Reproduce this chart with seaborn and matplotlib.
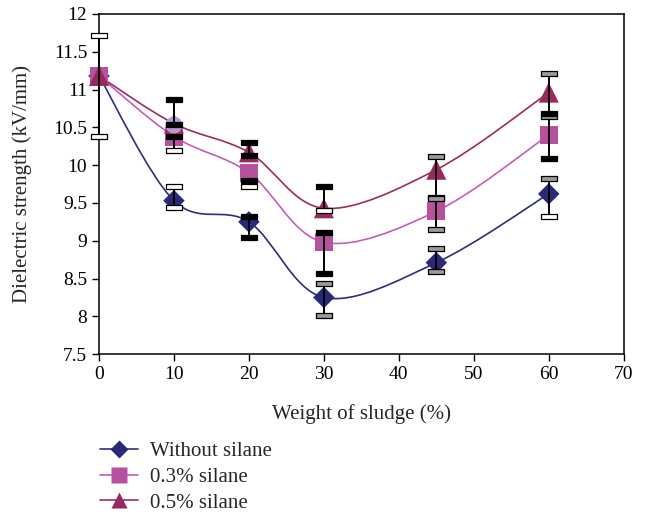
import numpy as np
import pandas as pd
import matplotlib
matplotlib.use("Agg")
import matplotlib.pyplot as plt
from matplotlib.path import Path
from matplotlib.patches import PathPatch
from matplotlib.lines import Line2D
from matplotlib.ticker import FuncFormatter, MultipleLocator
import seaborn as sns

# --- data ---
sludge = [0, 10, 20, 30, 45, 60]
series_names = ["Without silane", "0.3% silane", "0.5% silane"]

no_silane = [11.18, 9.53, 9.25, 8.25, 8.71, 9.62]
no_silane_hi = [11.72, 9.73, 9.33, 8.44, 8.91, 9.83]
no_silane_lo = [10.39, 9.45, 9.05, 8.02, 8.60, 9.33]

silane_03 = [11.18, 10.38, 9.90, 8.98, 9.39, 10.40]
silane_03_hi = [np.nan, 10.38, 9.80, 9.12, 9.58, 10.65]
silane_03_lo = [np.nan, 10.20, 9.72, 8.58, 9.15, 10.09]

silane_05 = [11.18, 10.55, 10.17, 9.43, 9.94, 10.96]
silane_05_hi = [np.nan, 10.87, 10.31, 9.72, 10.12, 11.22]
silane_05_lo = [np.nan, 10.55, 10.13, 9.41, 9.56, 10.69]

# stray light circle marker sitting on the 10 % column
stray_x = [10]
stray_y = [10.53]

# --- styles ---
line_colors = ["#2e2d82", "#c65cb8", "#9c2c60"]
fill_colors = ["#2a2977", "#b6519f", "#98295f"]
markers = ["D", "s", "^"]
marker_area = [120, 175, 210]
# cap fill per point: k = black, g = grey, w = hollow
cap_hi_style = [list("wwkggg"), list("kkkkgg"), list("kkkkgg")]
cap_lo_style = [list("wwkggw"), list("kwwkgk"), list("kkkwgk")]
cap_fill = {"k": "black", "g": "#9a9a9a", "w": "white"}

cap_marker = Path([(-1, -0.3), (1, -0.3), (1, 0.3), (-1, 0.3), (-1, -0.3)],
                  [Path.MOVETO, Path.LINETO, Path.LINETO, Path.LINETO, Path.CLOSEPOLY])


def smooth_path(xs, ys):
    """Excel-style smoothed line as cubic Bezier segments through the points."""
    pts = np.column_stack([xs, ys]).astype(float)
    n = len(pts)
    verts = [pts[0]]
    codes = [Path.MOVETO]
    for i in range(n - 1):
        p0 = pts[max(i - 1, 0)]
        p1 = pts[i]
        p2 = pts[i + 1]
        p3 = pts[min(i + 2, n - 1)]
        verts += [p1 + (p2 - p0) / 6, p2 - (p3 - p1) / 6, p2]
        codes += [Path.CURVE4] * 3
    return Path(verts, codes)


sns.set_style("ticks")
plt.rcParams["font.family"] = ["Liberation Serif", "DejaVu Serif"]

fig = plt.figure(figsize=(6.47, 5.17), dpi=100)
ax = fig.add_axes([0.153, 0.315, 0.811, 0.658])

values = [no_silane, silane_03, silane_05]
his = [no_silane_hi, silane_03_hi, silane_05_hi]
los = [no_silane_lo, silane_03_lo, silane_05_lo]

df = pd.DataFrame({
    "sludge": sludge * 3,
    "strength": no_silane + silane_03 + silane_05,
    "series": [s for s in series_names for _ in sludge],
})

# smoothed lines
for i in range(3):
    ax.add_patch(PathPatch(smooth_path(sludge, values[i]), facecolor="none",
                           edgecolor=line_colors[i], lw=1.2, zorder=2))

# markers
for i, name in enumerate(series_names):
    sns.scatterplot(data=df[df["series"] == name], x="sludge", y="strength",
                    marker=markers[i], s=marker_area[i], color=fill_colors[i],
                    edgecolor="none", ax=ax, zorder=3, legend=False, clip_on=False)
ax.scatter(stray_x, stray_y, s=150, color="#b99acb", zorder=4, edgecolor="none")

# error bars with rectangular caps
for i in range(3):
    for j, x in enumerate(sludge):
        hi, lo = his[i][j], los[i][j]
        if np.isnan(hi):
            continue
        ax.vlines(x, lo, hi, color="black", lw=1.4, zorder=5, clip_on=False)
        ax.plot([x], [hi], marker=cap_marker, ms=12, mfc=cap_fill[cap_hi_style[i][j]],
                mec="black", mew=0.9, zorder=6, clip_on=False)
        ax.plot([x], [lo], marker=cap_marker, ms=12, mfc=cap_fill[cap_lo_style[i][j]],
                mec="black", mew=0.9, zorder=6, clip_on=False)

ax.set_xlim(0, 70)
ax.set_ylim(7.5, 12)
ax.xaxis.set_major_locator(MultipleLocator(10))
ax.yaxis.set_major_locator(MultipleLocator(0.5))
ax.yaxis.set_major_formatter(FuncFormatter(lambda v, p: f"{v:g}"))
ax.tick_params(direction="out", length=5, width=1, labelsize=14, colors="black")
for sp in ax.spines.values():
    sp.set_visible(True)
    sp.set_linewidth(1.1)
    sp.set_color("black")
ax.set_xlabel("Weight of sludge (%)", fontsize=15, labelpad=15)
ax.set_ylabel("Dielectric strength (kV/mm)", fontsize=15)
ax.yaxis.set_label_coords(-0.128, 0.5)

handles = [Line2D([], [], color=line_colors[i], lw=1.2, marker=markers[i],
                  markersize=[9, 11, 11][i], markerfacecolor=fill_colors[i],
                  markeredgecolor="none")
           for i in range(3)]
fig.legend(handles, series_names, loc="upper left", bbox_to_anchor=(0.155, 0.146),
           frameon=False, fontsize=15, handlelength=1.8, handletextpad=0.6,
           labelspacing=0.3, borderpad=0, borderaxespad=0)

fig.savefig("out.png", dpi=100)
